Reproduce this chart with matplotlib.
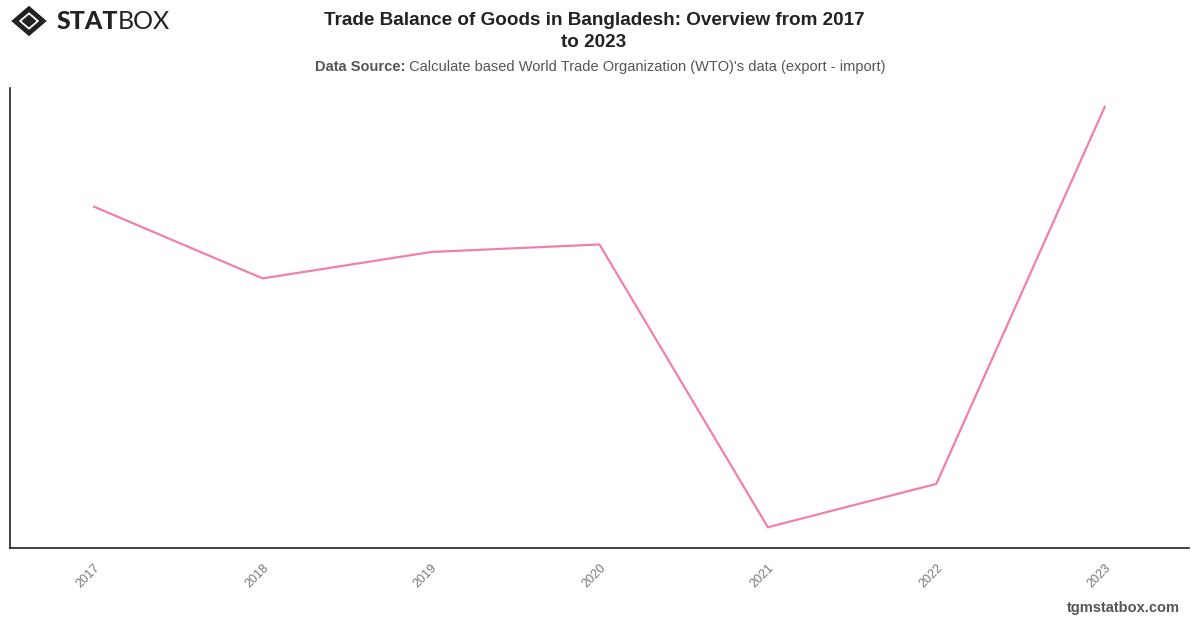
import matplotlib.pyplot as plt
import matplotlib.patches as mpatches

# Trade balance (export - import), billion USD
years = ['2017', '2018', '2019', '2020', '2021', '2022', '2023']
balance = [-19.2, -23.0, -21.6, -21.2, -36.2, -33.9, -13.9]

line_color = '#f17fae'
plt.rcParams['font.family'] = ['Liberation Sans', 'DejaVu Sans']

fig = plt.figure(figsize=(12, 6.28), dpi=100)
ax = fig.add_axes([0.0083, 0.1274, 0.9825, 0.7325])

x = list(range(len(years)))
ax.plot(x, balance, color=line_color, linewidth=1.6)

ax.set_xlim(-0.5, len(years) - 0.5)
ax.set_ylim(-37.3, -12.9)
ax.set_xticks(x)
ax.set_xticklabels(years, rotation=45, ha='right', rotation_mode='anchor',
                   fontsize=9, color='#777777')
ax.tick_params(axis='x', length=0, pad=10)
ax.set_yticks([])
for side in ['top', 'right']:
    ax.spines[side].set_visible(False)
for side in ['left', 'bottom']:
    ax.spines[side].set_color('#222222')
    ax.spines[side].set_linewidth(1.2)

# Title block
fig.text(0.495, 0.981, 'Trade Balance of Goods in Bangladesh: Overview from 2017\nto 2023',
         ha='center', va='top', fontsize=13.6, fontweight='bold', color='#222222',
         linespacing=1.4)

label = 'Data Source:'
rest = " Calculate based World Trade Organization (WTO)'s data (export - import)"
renderer = fig.canvas.get_renderer()
t1 = fig.text(0, 0.893, label, ha='left', va='center', fontsize=10.5,
              fontweight='bold', color='#555555')
t2 = fig.text(0, 0.893, rest, ha='left', va='center', fontsize=10.5, color='#555555')
w1 = t1.get_window_extent(renderer).width / fig.bbox.width
w2 = t2.get_window_extent(renderer).width / fig.bbox.width
x0 = 0.5 - (w1 + w2) / 2
t1.set_x(x0)
t2.set_x(x0 + w1)

# Logo
cx, cy = 0.29, 6.28 - 0.21
outer = mpatches.Polygon([(cx - 0.14, cy), (cx, cy + 0.12), (cx + 0.14, cy), (cx, cy - 0.12)],
                         closed=True, transform=fig.dpi_scale_trans, facecolor='none',
                         edgecolor='#222222', linewidth=3.5)
inner = mpatches.Polygon([(cx - 0.065, cy), (cx, cy + 0.055), (cx + 0.065, cy), (cx, cy - 0.055)],
                         closed=True, transform=fig.dpi_scale_trans, facecolor='#222222',
                         edgecolor='#222222')
fig.add_artist(outer)
fig.add_artist(inner)
fig.text(0.047, 0.965, 'STAT', ha='left', va='center', fontsize=18,
         fontweight='black', family='Lato', color='#222222')
fig.text(0.0985, 0.965, 'BOX', ha='left', va='center', fontsize=18,
         fontweight='normal', family='Lato', color='#222222')

# Footer
fig.text(0.983, 0.021, 'tgmstatbox.com', ha='right', va='bottom', fontsize=10.5,
         fontweight='bold', color='#555555')

fig.savefig('out.png', dpi=100)
